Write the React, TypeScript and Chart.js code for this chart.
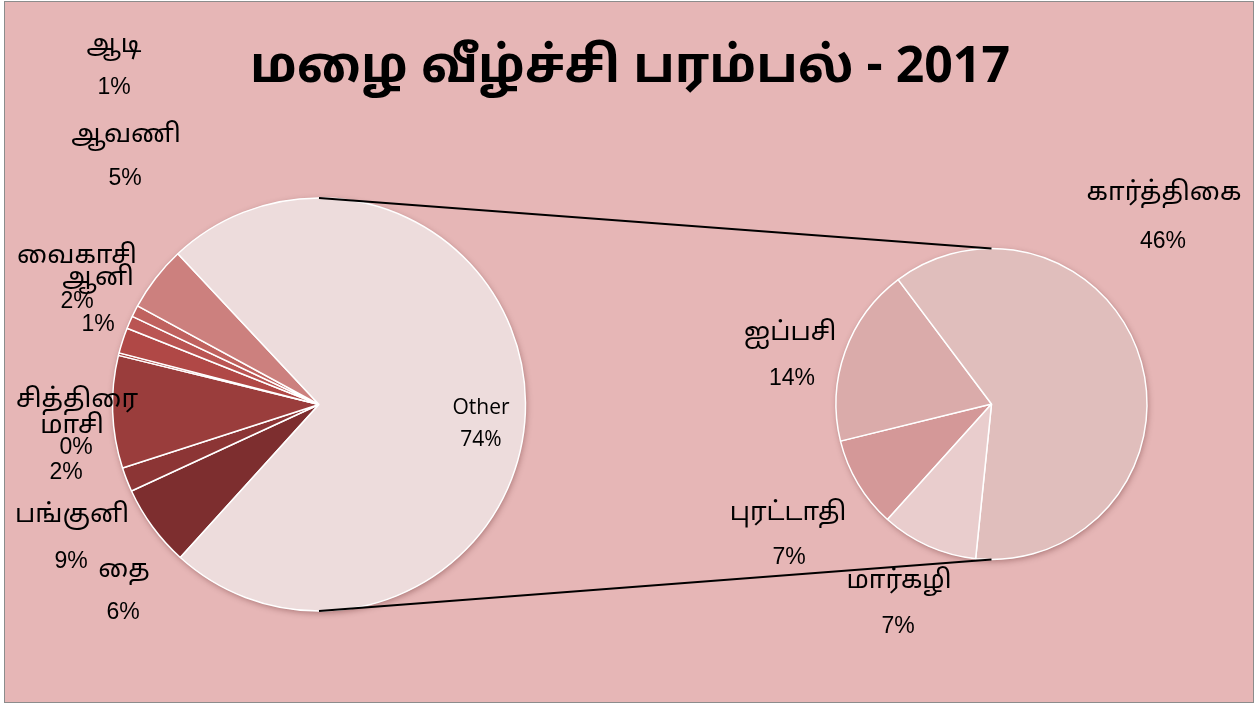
import React, { useEffect, useRef } from "react";
import { Chart, registerables } from "chart.js";

Chart.register(...registerables);

// ---- data ----
const titleText = "மழை வீழ்ச்சி பரம்பல் - 2017";
const leftMonths = ["தை", "மாசி", "பங்குனி", "சித்திரை", "வைகாசி", "ஆனி", "ஆடி", "ஆவணி"];
const leftValues = [6.4, 1.9, 8.8, 0.2, 2.0, 1.0, 0.9, 5.1];
const otherLabel = "Other";
const rightMonths = ["புரட்டாதி", "ஐப்பசி", "கார்த்திகை", "மார்கழி"];
const rightValues = [7.0, 13.7, 45.6, 7.4];

// ---- styles / layout ----
const bgColor = "#E6B6B6";
const leftColors = ["#7D2E2F", "#8C3535", "#9A3D3C", "#A84341", "#B04846", "#BA5553", "#C0625F", "#CC807E", "#EDDCDC"];
const rightColors = ["#D49898", "#DAABAA", "#E0BEBC", "#E9CDCD"];
// label anchor positions (canvas px): [nameX, nameY, pctX, pctY]
const leftLabelPos: number[][] = [
  [119, 570, 118, 611],
  [67, 426, 61, 471],
  [67, 515, 66, 560],
  [72, 400, 71, 446],
  [72, 256, 72, 300],
  [93, 278, 93, 323],
  [109, 45, 109, 86],
  [121, 135, 120, 177],
  [476, 406, 476, 438],
];
const rightLabelPos: number[][] = [
  [783, 513, 784, 556],
  [785, 333, 787, 377],
  [1159, 193, 1158, 240],
  [894, 581, 893, 625],
];
const W = 1248;
const H = 700;
const tamilFont = '"Noto Sans Tamil", "Lohit Tamil", "Latha", "Liberation Sans", Arial, sans-serif';

export default function App() {
  const leftRef = useRef<HTMLCanvasElement>(null);
  const rightRef = useRef<HTMLCanvasElement>(null);

  useEffect(() => {
    document.body.style.margin = "0";
    const otherValue = rightValues.reduce((a, b) => a + b, 0);
    const total = leftValues.reduce((a, b) => a + b, 0) + otherValue;
    const pct = (v: number) => Math.round((v / total) * 100) + "%";

    const makeLabels = (id: string, names: string[], values: number[], pos: number[][]) => ({
      id,
      afterDatasetsDraw(chart: any) {
        const ctx = chart.ctx;
        ctx.save();
        ctx.fillStyle = "#000";
        ctx.textAlign = "center";
        ctx.textBaseline = "middle";
        names.forEach((n, i) => {
          const p = pos[i];
          if (!p) return;
          const isOther = n === otherLabel;
          ctx.font = isOther ? '21px "Open Sans", "Noto Sans", sans-serif' : "26px " + tamilFont;
          ctx.fillText(n, p[0], p[1]);
          ctx.font = isOther ? '21px "Open Sans", "Noto Sans", sans-serif' : '23px "Liberation Sans", Arial, sans-serif';
          ctx.fillText(pct(values[i]), p[2], p[3]);
        });
        ctx.restore();
      },
    });

    const shadow = {
      id: "pieShadow",
      beforeDatasetsDraw(chart: any) {
        const a = chart.getDatasetMeta(0).data[0] as any;
        if (!a) return;
        const ctx = chart.ctx;
        ctx.save();
        ctx.shadowColor = "rgba(60,0,0,0.35)";
        ctx.shadowBlur = 6;
        ctx.shadowOffsetX = 1;
        ctx.shadowOffsetY = 2;
        ctx.fillStyle = bgColor;
        ctx.beginPath();
        ctx.arc(a.x, a.y, a.outerRadius, 0, Math.PI * 2);
        ctx.fill();
        ctx.restore();
      },
    };

    const title = {
      id: "bigTitle",
      beforeDatasetsDraw(chart: any) {
        const ctx = chart.ctx;
        ctx.save();
        ctx.fillStyle = "#000";
        ctx.textAlign = "center";
        ctx.textBaseline = "middle";
        ctx.font = "bold 50px " + tamilFont;
        ctx.fillText(titleText, 625, 70);
        ctx.restore();
      },
    };

    const leftNames = [...leftMonths, otherLabel];
    const leftData = [...leftValues, otherValue];

    const left = new Chart(leftRef.current as HTMLCanvasElement, {
      type: "pie",
      data: {
        labels: leftNames,
        datasets: [
          {
            data: leftData,
            backgroundColor: leftColors,
            borderColor: "#FFFFFF",
            borderWidth: 1.5,
          },
        ],
      },
      options: {
        responsive: false,
        animation: false,
        rotation: 222.2,
        layout: { padding: { left: 106.75, top: 195.25, right: 726.75, bottom: 90.25 } },
        plugins: { legend: { display: false }, tooltip: { enabled: false }, title: { display: false } },
      },
      plugins: [title, shadow, makeLabels("leftLabels", leftNames, leftData, leftLabelPos)],
    });

    const connector = {
      id: "connector",
      afterDatasetsDraw(chart: any) {
        const a = left.getDatasetMeta(0).data[0] as any;
        const b = chart.getDatasetMeta(0).data[0] as any;
        if (!a || !b) return;
        const ctx = chart.ctx;
        ctx.save();
        ctx.strokeStyle = "#000";
        ctx.lineWidth = 2;
        ctx.beginPath();
        ctx.moveTo(a.x, a.y - a.outerRadius);
        ctx.lineTo(b.x, b.y - b.outerRadius);
        ctx.moveTo(a.x, a.y + a.outerRadius);
        ctx.lineTo(b.x, b.y + b.outerRadius);
        ctx.stroke();
        ctx.restore();
      },
    };

    const right = new Chart(rightRef.current as HTMLCanvasElement, {
      type: "pie",
      data: {
        labels: rightMonths,
        datasets: [
          {
            data: rightValues,
            backgroundColor: rightColors,
            borderColor: "#FFFFFF",
            borderWidth: 1.5,
          },
        ],
      },
      options: {
        responsive: false,
        animation: false,
        rotation: 222,
        layout: { padding: { left: 830.25, top: 245.75, right: 105.25, bottom: 141.75 } },
        plugins: { legend: { display: false }, tooltip: { enabled: false }, title: { display: false } },
      },
      plugins: [shadow, connector, makeLabels("rightLabels", rightMonths, rightValues, rightLabelPos)],
    });

    return () => {
      left.destroy();
      right.destroy();
    };
  }, []);

  return (
    <div
      style={{
        position: "fixed",
        left: 4,
        top: 1,
        width: W + 2,
        height: H + 2,
        border: "1px solid #8C8C8C",
        boxSizing: "border-box",
        background: bgColor,
      }}
    >
      <canvas ref={leftRef} width={W} height={H} style={{ position: "absolute", left: 0, top: 0, width: W, height: H }} />
      <canvas ref={rightRef} width={W} height={H} style={{ position: "absolute", left: 0, top: 0, width: W, height: H }} />
    </div>
  );
}
